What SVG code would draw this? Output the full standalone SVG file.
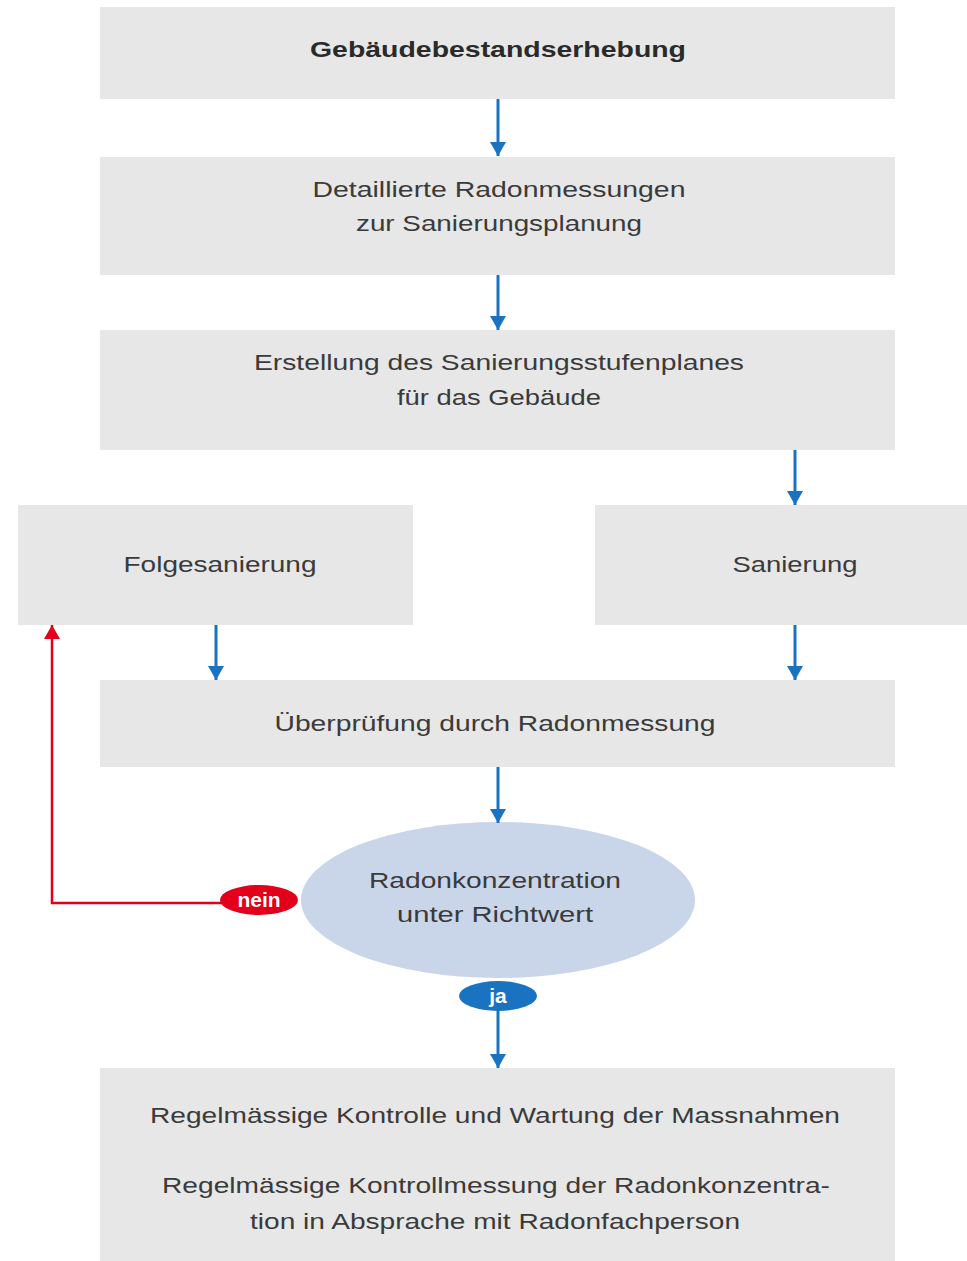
<svg xmlns="http://www.w3.org/2000/svg" width="967" height="1261" viewBox="0 0 967 1261">
<defs>
<style>
.box{fill:#e7e7e7;}
.t{font-family:"Liberation Sans",Arial,sans-serif;font-size:22px;fill:#3a3a3a;text-anchor:middle;}
.b{font-weight:bold;fill:#2a2a2a;}
.c{stroke:#1a73c0;stroke-width:3;fill:none;}
.r{stroke:#e2001a;stroke-width:2.5;fill:none;}
.pill{font-family:"Liberation Sans",Arial,sans-serif;font-size:21px;font-weight:bold;fill:#fff;text-anchor:middle;}
</style>
<marker id="ab" viewBox="0 0 14 16" refX="14" refY="8" markerWidth="14" markerHeight="16" markerUnits="userSpaceOnUse" orient="auto"><path d="M0,0 L14,8 L0,16 z" fill="#1a73c0"/></marker>
<marker id="ar" viewBox="0 0 14 16" refX="14" refY="8" markerWidth="14" markerHeight="16" markerUnits="userSpaceOnUse" orient="auto"><path d="M0,0 L14,8 L0,16 z" fill="#e2001a"/></marker>
</defs>
<rect width="967" height="1261" fill="#ffffff"/>
<g id="n1"><rect class="box" x="100" y="7" width="795" height="92"/><text class="t b" x="498" y="57" textLength="376" lengthAdjust="spacingAndGlyphs">Gebäudebestandserhebung</text></g>
<g id="n2"><rect class="box" x="100" y="157" width="795" height="118"/><text class="t" x="499" y="197" textLength="373" lengthAdjust="spacingAndGlyphs">Detaillierte Radonmessungen</text><text class="t" x="499" y="231" textLength="286" lengthAdjust="spacingAndGlyphs">zur Sanierungsplanung</text></g>
<g id="n3"><rect class="box" x="100" y="330" width="795" height="120"/><text class="t" x="499" y="370" textLength="490" lengthAdjust="spacingAndGlyphs">Erstellung des Sanierungsstufenplanes</text><text class="t" x="499" y="405" textLength="204" lengthAdjust="spacingAndGlyphs">für das Gebäude</text></g>
<g id="n4"><rect class="box" x="18" y="505" width="395" height="120"/><text class="t" x="220" y="572" textLength="193" lengthAdjust="spacingAndGlyphs">Folgesanierung</text></g>
<g id="n5"><rect class="box" x="595" y="505" width="372" height="120"/><text class="t" x="795" y="572" textLength="125" lengthAdjust="spacingAndGlyphs">Sanierung</text></g>
<g id="n6"><rect class="box" x="100" y="680" width="795" height="87"/><text class="t" x="495" y="731" textLength="441" lengthAdjust="spacingAndGlyphs">Überprüfung durch Radonmessung</text></g>
<g id="n7"><ellipse cx="498" cy="900" rx="197" ry="78" fill="#c9d6ea"/><text class="t" x="495" y="888" textLength="252" lengthAdjust="spacingAndGlyphs">Radonkonzentration</text><text class="t" x="495" y="922" textLength="196" lengthAdjust="spacingAndGlyphs">unter Richtwert</text></g>
<g id="n8"><rect class="box" x="100" y="1068" width="795" height="193"/><text class="t" x="495" y="1123" textLength="690" lengthAdjust="spacingAndGlyphs">Regelmässige Kontrolle und Wartung der Massnahmen</text><text class="t" x="496" y="1193" textLength="668" lengthAdjust="spacingAndGlyphs">Regelmässige Kontrollmessung der Radonkonzentra-</text><text class="t" x="495" y="1229" textLength="490" lengthAdjust="spacingAndGlyphs">tion in Absprache mit Radonfachperson</text></g>
<g id="connectors">
<line class="c" x1="498" y1="99" x2="498" y2="156" marker-end="url(#ab)"/>
<line class="c" x1="498" y1="275" x2="498" y2="330" marker-end="url(#ab)"/>
<line class="c" x1="795" y1="450" x2="795" y2="505" marker-end="url(#ab)"/>
<line class="c" x1="216" y1="625" x2="216" y2="680" marker-end="url(#ab)"/>
<line class="c" x1="795" y1="625" x2="795" y2="680" marker-end="url(#ab)"/>
<line class="c" x1="498" y1="767" x2="498" y2="823" marker-end="url(#ab)"/>
<line class="c" x1="498" y1="1010" x2="498" y2="1068" marker-end="url(#ab)"/>
<polyline class="r" points="225,903 52,903 52,625" marker-end="url(#ar)"/>
<g id="nein"><ellipse cx="259" cy="900" rx="39" ry="15" fill="#e2001a"/><text class="pill" x="259" y="907">nein</text></g>
<g id="ja"><ellipse cx="498" cy="996" rx="39" ry="15" fill="#1a73c0"/><text class="pill" x="498" y="1003">ja</text></g>
</g>
</svg>
